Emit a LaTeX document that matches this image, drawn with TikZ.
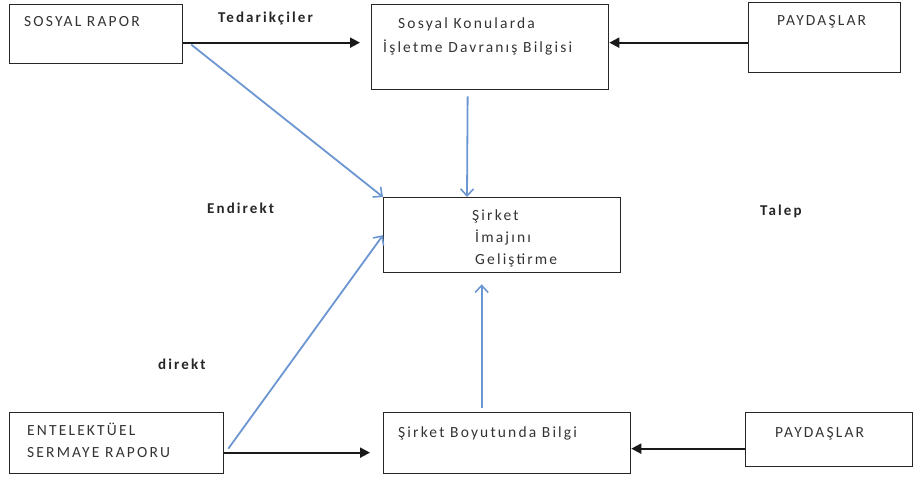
\documentclass[tikz,border=0pt]{standalone}
\usepackage{fontspec}
\setmainfont{Carlito}[LetterSpace=14]
\usetikzlibrary{arrows.meta,calc}
\definecolor{lblue}{RGB}{108,150,210}
\begin{document}
\begin{tikzpicture}[x=1pt,y=-1pt,
  box/.style={draw=black!85,line width=1.3pt,rectangle,anchor=north west,inner sep=0pt},
  txt/.style={anchor=base west,inner sep=0pt,font=\fontsize{15.5}{18}\selectfont,text=black!80},
  lbl/.style={anchor=base west,inner sep=0pt,font=\fontsize{15}{18}\selectfont\bfseries,text=black!85},
  blk/.style={draw=black!90,line width=2pt,-{Triangle[length=10pt,width=10pt]}},
  blu/.style={draw=lblue,line width=1.8pt,-{Straight Barb[length=7pt,width=13pt,line width=1.6pt]}}]
\useasboundingbox (0,0) rectangle (915,479);
% boxes
\node[box,minimum width=173pt,minimum height=59pt] (sr) at (9,4) {};
\node[box,minimum width=237pt,minimum height=85pt] (sk) at (371,4) {};
\node[box,minimum width=152pt,minimum height=70pt] (p1) at (748,2) {};
\node[box,minimum width=237pt,minimum height=75pt] (im) at (383,197) {};
\node[box,minimum width=214pt,minimum height=61pt] (en) at (9,412) {};
\node[box,minimum width=247pt,minimum height=61pt] (sb) at (383,412) {};
\node[box,minimum width=167pt,minimum height=54pt] (p2) at (745,412) {};
% texts
\node[txt] (t1) at (24,26) {SOSYAL RAPOR};
\node[txt] (t2) at (398,28) {Sosyal Konularda};
\node[txt] (t3) at (383,52) {İşletme Davranış Bilgisi};
\node[txt] (t4) at (777,25) {PAYDAŞLAR};
\node[txt] (t5) at (472,220) {Şirket};
\node[txt] (t6) at (475,242) {İmajını};
\node[txt] (t7) at (475,264) {Geliştirme};
\node[txt] (t8) at (27,435) {ENTELEKTÜEL};
\node[txt] (t9) at (27,457) {SERMAYE RAPORU};
\node[txt] (t10) at (398,437) {Şirket Boyutunda Bilgi};
\node[txt] (t11) at (775,437) {PAYDAŞLAR};
% labels
\node[lbl] (l1) at (218,23) {Tedarikçiler};
\node[lbl] (l2) at (207,213) {Endirekt};
\node[lbl] (l3) at (760,215) {Talep};
\node[lbl] (l4) at (158,369) {direkt};
% black arrows
\draw[blk] ($(sr.east)+(0,8.5)$) -- ($(sk.west)+(-11,-4.5)$);
\draw[blk] ($(p1.west)+(0,5)$) -- ($(sk.east)+(0,-4.5)$);
\draw[blk] ($(en.east)+(0,9.5)$) -- ($(sb.west)+(-13,9.5)$);
\draw[blk] ($(p2.west)+(0,9)$) -- ($(sb.east)+(0,5.5)$);
% blue arrows
\draw[blu] ($(sr.east)+(8,10.5)$) -- (im.north west);
\draw[blu] ($(sk.south)+(-22.5,6)$) -- ($(im.north west)+(84,0)$);
\draw[blu] ($(en.east)+(4,5.5)$) -- (im.west);
\draw[blu] ($(sb.north)+(-25.5,-4)$) -- ($(im.south)+(-20.5,11)$);
\end{tikzpicture}
\end{document}
